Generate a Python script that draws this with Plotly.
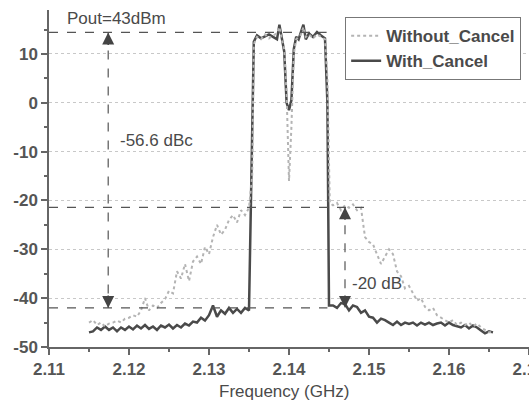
import plotly.graph_objects as go

# ---------------- data ----------------
freq_without = [2.1150, 2.1155, 2.1160, 2.1165, 2.1170, 2.1175, 2.1180, 2.1185, 2.1190, 2.1195,
                2.1200, 2.1205, 2.1210, 2.1215, 2.1220, 2.1225, 2.1230, 2.1235, 2.1240, 2.1245,
                2.1250, 2.1255, 2.1260, 2.1265, 2.1270, 2.1275, 2.1280, 2.1285, 2.1290, 2.1295,
                2.1300, 2.1305, 2.1310, 2.1315, 2.1320, 2.1325, 2.1330, 2.1335, 2.1340, 2.1345,
                2.1350, 2.1354, 2.1356, 2.1360, 2.1365, 2.1370, 2.1375, 2.1380, 2.1385, 2.1388,
                2.1391, 2.1394, 2.1397, 2.1400, 2.1403, 2.1406, 2.1409, 2.1412, 2.1415, 2.1418,
                2.1421, 2.1425, 2.1430, 2.1435, 2.1440, 2.1445, 2.1448, 2.1451, 2.1455, 2.1460,
                2.1465, 2.1470, 2.1475, 2.1480, 2.1485, 2.1490, 2.1495, 2.1500, 2.1505, 2.1510,
                2.1515, 2.1520, 2.1525, 2.1530, 2.1535, 2.1540, 2.1545, 2.1550, 2.1555, 2.1560,
                2.1565, 2.1570, 2.1575, 2.1580, 2.1585, 2.1590, 2.1595, 2.1600, 2.1605, 2.1610,
                2.1615, 2.1620, 2.1625, 2.1630, 2.1635, 2.1640, 2.1645, 2.1650, 2.1655]
power_without = [-45.0, -44.5, -45.5, -45.0, -45.8, -45.2, -45.0, -44.6, -45.0, -44.2,
                 -44.0, -43.5, -43.8, -42.5, -40.0, -42.5, -41.5, -42.0, -41.0, -40.2,
                 -38.5, -39.0, -34.5, -36.0, -33.0, -36.5, -32.5, -31.5, -33.0, -29.5,
                 -31.0, -27.5, -25.0, -27.0, -26.0, -24.0, -23.0, -24.5, -22.0, -23.0,
                 -21.5, -15.0, 12.0, 13.5, 13.0, 14.0, 13.2, 13.8, 14.2, 15.5,
                 13.0, 11.0, 2.0, -16.0, -5.0, 10.0, 13.0, 13.5, 14.0, 15.5,
                 13.5, 14.0, 13.2, 14.0, 13.5, 13.0, 5.0, -20.5, -21.0, -20.5,
                 -22.0, -21.0, -21.5, -20.8, -22.0, -21.5, -27.5, -28.5, -29.0, -31.0,
                 -33.0, -31.5, -30.0, -31.0, -34.5, -35.5, -38.0, -37.5, -39.0, -40.5,
                 -40.0, -41.8, -42.5, -42.0, -43.5, -44.0, -44.5, -45.0, -44.5, -45.5,
                 -45.0, -45.5, -45.0, -45.8, -45.2, -46.0, -46.5, -47.0, -47.0]

freq_with = [2.1150, 2.1155, 2.1160, 2.1165, 2.1170, 2.1175, 2.1180, 2.1185, 2.1190, 2.1195,
             2.1200, 2.1205, 2.1210, 2.1215, 2.1220, 2.1225, 2.1230, 2.1235, 2.1240, 2.1245,
             2.1250, 2.1255, 2.1260, 2.1265, 2.1270, 2.1275, 2.1280, 2.1285, 2.1290, 2.1295,
             2.1300, 2.1305, 2.1310, 2.1315, 2.1320, 2.1325, 2.1330, 2.1335, 2.1340, 2.1345,
             2.1350, 2.1353, 2.1356, 2.1360, 2.1365, 2.1370, 2.1375, 2.1380, 2.1385, 2.1388,
             2.1391, 2.1394, 2.1397, 2.1400, 2.1403, 2.1406, 2.1409, 2.1412, 2.1415, 2.1418,
             2.1421, 2.1425, 2.1430, 2.1435, 2.1440, 2.1445, 2.1448, 2.1450, 2.1455, 2.1460,
             2.1465, 2.1470, 2.1475, 2.1480, 2.1485, 2.1490, 2.1495, 2.1500, 2.1505, 2.1510,
             2.1515, 2.1520, 2.1525, 2.1530, 2.1535, 2.1540, 2.1545, 2.1550, 2.1555, 2.1560,
             2.1565, 2.1570, 2.1575, 2.1580, 2.1585, 2.1590, 2.1595, 2.1600, 2.1605, 2.1610,
             2.1615, 2.1620, 2.1625, 2.1630, 2.1635, 2.1640, 2.1645, 2.1650, 2.1655]
power_with = [-47.0, -46.8, -46.0, -46.5, -45.8, -46.5, -46.0, -46.8, -46.0, -46.5,
              -45.8, -46.4, -45.6, -46.2, -45.5, -46.3, -45.8, -46.5, -45.6, -46.0,
              -45.4, -46.2, -45.5, -46.0, -45.2, -45.6, -44.8, -45.0, -44.0, -44.6,
              -43.5, -41.5, -43.8, -42.5, -43.2, -42.0, -43.0, -42.2, -43.0, -42.0,
              -42.5, -15.0, 12.5, 13.8, 13.2, 13.6, 14.0, 13.5, 13.0, 16.0,
              13.5, 10.5, 0.0, -1.5, 0.5, 11.0, 13.5, 13.0, 14.5, 16.0,
              13.0, 14.2, 13.5, 14.5, 13.8, 13.2, 0.0, -41.5, -41.5, -42.0,
              -41.0, -41.2, -42.5, -41.5, -41.8, -43.0, -42.5, -43.8, -44.0, -45.0,
              -44.2, -44.5, -45.0, -45.5, -44.8, -45.5, -45.0, -45.3, -45.0, -45.6,
              -45.0, -45.4, -45.0, -45.5, -45.2, -45.0, -45.6, -45.0, -45.5, -45.8,
              -46.0, -45.5, -46.2, -45.6, -46.0, -46.6, -47.2, -46.8, -47.0]

x_ticks = [2.11, 2.12, 2.13, 2.14, 2.15, 2.16, 2.17]
x_tick_labels = ["2.11", "2.12", "2.13", "2.14", "2.15", "2.16", "2.17"]
y_ticks = [-50, -40, -30, -20, -10, 0, 10]
y_tick_labels = ["-50", "-40", "-30", "-20", "-10", "0", "10"]

# annotation levels
pout_level = 14.4
shoulder_without = -21.4
shoulder_with = -42.0
marker_x1 = 2.1174
marker_x2 = 2.1470

FONT = "Arial, 'Liberation Sans', sans-serif"
TXT = "#4a4a4a"

fig = go.Figure()
fig.add_trace(go.Scatter(x=freq_with, y=power_with, mode="lines", name="With_Cancel",
                         line=dict(color="#4a4a4a", width=2.5), legendrank=2))
fig.add_trace(go.Scatter(x=freq_without, y=power_without, mode="lines", name="Without_Cancel",
                         line=dict(color="#b4b4b4", width=2, dash="dot"), legendrank=1))

dash_line = dict(color="#555555", width=1.2, dash="dash")
shapes = [
    dict(type="line", xref="x", yref="y", x0=2.11, x1=2.1447, y0=pout_level, y1=pout_level, line=dash_line),
    dict(type="line", xref="x", yref="y", x0=2.11, x1=2.1495, y0=shoulder_without, y1=shoulder_without, line=dash_line),
    dict(type="line", xref="x", yref="y", x0=2.11, x1=2.1448, y0=shoulder_with, y1=shoulder_with, line=dash_line),
    dict(type="line", xref="x", yref="y", x0=marker_x1, x1=marker_x1, y0=pout_level, y1=shoulder_with, line=dash_line),
    dict(type="line", xref="x", yref="y", x0=marker_x2, x1=marker_x2, y0=shoulder_without, y1=shoulder_with, line=dash_line),
]

def arrow(x, y, up):
    return dict(x=x, y=y, xref="x", yref="y", ax=0, ay=(14 if up else -14), text="",
                showarrow=True, arrowhead=2, arrowsize=1.6, arrowwidth=1.5, arrowcolor="#444444")

annotations = [
    arrow(marker_x1, pout_level, True),
    arrow(marker_x1, shoulder_with, False),
    arrow(marker_x2, shoulder_without, True),
    arrow(marker_x2, shoulder_with, False),
    dict(x=2.112, y=17.3, xref="x", yref="y", text="Pout=43dBm", showarrow=False,
         xanchor="left", yanchor="middle", font=dict(family=FONT, size=17, color=TXT)),
    dict(x=2.1186, y=-7.8, xref="x", yref="y", text="-56.6 dBc", showarrow=False,
         xanchor="left", yanchor="middle", font=dict(family=FONT, size=17, color=TXT)),
    dict(x=2.1476, y=-36.9, xref="x", yref="y", text="-20 dB", showarrow=False,
         xanchor="left", yanchor="middle", font=dict(family=FONT, size=17, color=TXT)),
    dict(x=0.49, y=0, xref="paper", yref="paper", yshift=-56, text="Frequency (GHz)", showarrow=False,
         xanchor="center", yanchor="bottom", font=dict(family=FONT, size=17, color=TXT)),
]

axis_common = dict(showline=True, linecolor="#666666", linewidth=1.5, ticks="outside",
                   ticklen=6, tickwidth=1.5, tickcolor="#666666", zeroline=False, automargin=False,
                   ticklabeloverflow="allow",
                   tickfont=dict(family=FONT, size=17, color="#555555", weight="bold"))

fig.update_layout(
    width=529, height=404,
    margin=dict(l=49, r=0, t=10, b=57, autoexpand=False),
    paper_bgcolor="white", plot_bgcolor="white",
    showlegend=True,
    legend=dict(x=0.617, y=0.979, xanchor="left", yanchor="top",
                bordercolor="#777777", borderwidth=1, bgcolor="white",
                font=dict(family=FONT, size=17, color=TXT, weight="bold"),
                tracegroupgap=0, itemwidth=30),
    shapes=shapes, annotations=annotations,
    xaxis=dict(range=[2.11, 2.17], tickvals=x_ticks, ticktext=x_tick_labels, showgrid=False,
               minor=dict(dtick=0.005, tick0=2.11, ticks="outside", ticklen=3, tickcolor="#666666", showgrid=False),
               **axis_common),
    yaxis=dict(range=[-50, 19], tickvals=y_ticks, ticktext=y_tick_labels, showgrid=True,
               gridcolor="#c8c8c8", griddash="dot", gridwidth=1,
               minor=dict(dtick=5, tick0=-50, ticks="outside", ticklen=3, tickcolor="#666666", showgrid=False),
               **axis_common),
)

fig.write_html("out.html", config={"displayModeBar": False},
               post_script="document.body.style.margin='0';document.body.style.overflow='hidden';")
